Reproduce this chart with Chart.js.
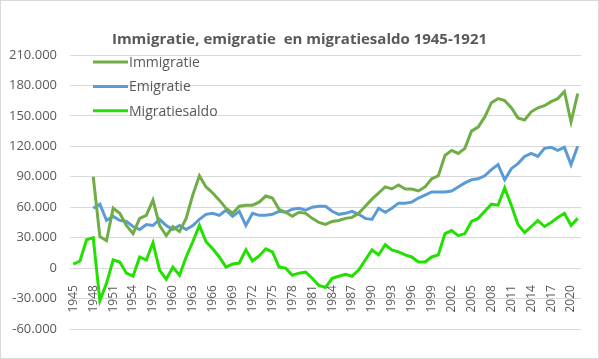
<!DOCTYPE html>
<html>
<head>
<meta charset="utf-8">
<script src="https://cdn.jsdelivr.net/npm/chart.js@4"></script>
<style>
  body { margin: 0; background: #fff; }
  #wrap { width: 599px; height: 359px; box-sizing: border-box; border: 1px solid #d9d9d9; }
</style>
</head>
<body>
<div id="wrap"><canvas id="chartMigratie" width="597" height="357"></canvas></div>
<script>
// Jaren 1945-2021
const jaren = ['1945', '1946', '1947', '1948', '1949', '1950', '1951', '1952', '1953', '1954',
    '1955', '1956', '1957', '1958', '1959', '1960', '1961', '1962', '1963', '1964',
    '1965', '1966', '1967', '1968', '1969', '1970', '1971', '1972', '1973', '1974',
    '1975', '1976', '1977', '1978', '1979', '1980', '1981', '1982', '1983', '1984',
    '1985', '1986', '1987', '1988', '1989', '1990', '1991', '1992', '1993', '1994',
    '1995', '1996', '1997', '1998', '1999', '2000', '2001', '2002', '2003', '2004',
    '2005', '2006', '2007', '2008', '2009', '2010', '2011', '2012', '2013', '2014',
    '2015', '2016', '2017', '2018', '2019', '2020', '2021'];

const immigratie = [null, null, null, 90000, 31000, 27000, 59000, 54000, 42000, 34000,
    49000, 52000, 67000, 42000, 32000, 41000, 36000, 49000, 72000, 91000,
    80000, 74000, 67000, 59000, 54000, 61000, 62000, 62000, 65000, 71000,
    69000, 58000, 55000, 51000, 55000, 54000, 49000, 45000, 43000, 46000,
    47000, 49000, 50000, 54000, 61000, 68000, 74000, 80000, 78000, 82000,
    78000, 78000, 76000, 80000, 88000, 91000, 111000, 116000, 113000, 118000,
    135000, 139000, 149000, 163000, 167000, 165000, 158000, 148000, 146000, 154000,
    158000, 160000, 164000, 167000, 174000, 144000, 172000];

const emigratie = [null, null, null, 59000, 63000, 47000, 51000, 47000, 46000, 41000,
    38000, 43000, 42000, 48000, 42000, 38000, 42000, 38000, 42000, 48000,
    53000, 54000, 52000, 57000, 51000, 56000, 42000, 54000, 52000, 52000,
    53000, 56000, 55000, 58000, 59000, 57000, 60000, 61000, 61000, 56000,
    53000, 54000, 56000, 53000, 49000, 48000, 59000, 55000, 59000, 64000,
    64000, 65000, 69000, 72000, 75000, 75000, 75000, 76000, 80000, 84000,
    87000, 88000, 91000, 97000, 102000, 87000, 98000, 103000, 110000, 113000,
    110000, 118000, 119000, 116000, 119000, 102000, 120000];

const migratiesaldo = [4000, 7000, 28000, 30000, -32000, -15000, 8000, 6000, -5000, -8000,
    11000, 8000, 25000, -2000, -11000, 1000, -7000, 11000, 26000, 42000,
    26000, 19000, 11000, 1000, 4000, 5000, 18000, 7000, 12000, 19000,
    16000, 1000, 0, -7000, -5000, -4000, -10000, -17000, -19000, -10000,
    -8000, -6000, -8000, -2000, 8000, 18000, 13000, 23000, 18000, 16000,
    13000, 11000, 6000, 6000, 11000, 13000, 34000, 37000, 32000, 34000,
    46000, 49000, 56000, 63000, 62000, 79000, 62000, 43000, 35000, 41000,
    47000, 41000, 45000, 50000, 54000, 42000, 49000];

const yTicks = [-60000, -30000, 0, 30000, 60000, 90000, 120000, 150000, 180000, 210000];

const tekstKleur = '#595959';
const lettertype = '"Open Sans", "Liberation Sans", sans-serif';

function formatNL(v) {
    return String(v).replace(/\B(?=(\d{3})+(?!\d))/g, '.');
}

// Legenda linksboven in het grafiekvlak
const legendaPlugin = {
    id: 'legendaBinnen',
    afterDraw(chart) {
        const ctx = chart.ctx;
        const ca = chart.chartArea;
        ctx.save();
        ctx.font = '14px ' + lettertype;
        ctx.textBaseline = 'middle';
        chart.data.datasets.forEach((ds, i) => {
            const y = ca.top + 7 + i * 24.4;
            ctx.strokeStyle = ds.borderColor;
            ctx.lineWidth = ds.borderWidth;
            ctx.beginPath();
            ctx.moveTo(ca.left + 23, y);
            ctx.lineTo(ca.left + 58, y);
            ctx.stroke();
            ctx.fillStyle = tekstKleur;
            ctx.fillText(ds.label, ca.left + 59, y + 1);
        });
        ctx.restore();
    }
};

const ctxMigratie = document.getElementById('chartMigratie').getContext('2d');
new Chart(ctxMigratie, {
    type: 'line',
    data: {
        labels: jaren,
        datasets: [{
            label: 'Immigratie',
            data: immigratie,
            borderColor: '#70AD47',
            borderWidth: 3,
            pointRadius: 0,
            tension: 0
        }, {
            label: 'Emigratie',
            data: emigratie,
            borderColor: '#5B9BD5',
            borderWidth: 3,
            pointRadius: 0,
            tension: 0
        }, {
            label: 'Migratiesaldo',
            data: migratiesaldo,
            borderColor: '#22E000',
            borderWidth: 3,
            pointRadius: 0,
            tension: 0
        }]
    },
    options: {
        responsive: false,
        animation: false,
        layout: {
            padding: { left: 0, right: 0, bottom: 29, top: 0 }
        },
        plugins: {
            legend: { display: false },
            tooltip: { enabled: false },
            title: {
                display: true,
                text: 'Immigratie, emigratie  en migratiesaldo 1945-1921',
                color: tekstKleur,
                font: { family: lettertype, size: 15, weight: 'bold' },
                padding: { top: 30, bottom: 6 }
            }
        },
        scales: {
            x: {
                position: { y: 0 },
                offset: true,
                grid: { display: false },
                border: { display: false },
                afterFit: (scale) => { scale.height = 0; }, // labels onder de nul-lijn, geen eigen ruimte
                ticks: {
                    autoSkip: false,
                    maxRotation: 90,
                    minRotation: 90,
                    padding: 9,
                    color: tekstKleur,
                    font: { family: lettertype, size: 12 },
                    callback: function(value, index) {
                        return index % 3 === 0 ? jaren[index] : null;
                    }
                }
            },
            y: {
                min: yTicks[0],
                max: yTicks[yTicks.length - 1],
                afterBuildTicks: (scale) => {
                    scale.ticks = yTicks.map(v => ({ value: v }));
                },
                afterFit: (scale) => { scale.width = 69; },
                grid: { color: '#d9d9d9', drawTicks: false },
                border: { display: false },
                ticks: {
                    padding: 13,
                    color: tekstKleur,
                    font: { family: lettertype, size: 13 },
                    callback: (v) => formatNL(v)
                }
            },
            // lege rechterkant, zodat de titel over de volle breedte gecentreerd blijft
            rechts: {
                type: 'linear',
                position: 'right',
                grid: { display: false },
                border: { display: false },
                ticks: { display: false },
                afterFit: (scale) => { scale.width = 17; }
            }
        }
    },
    plugins: [legendaPlugin]
});
</script>
</body>
</html>
